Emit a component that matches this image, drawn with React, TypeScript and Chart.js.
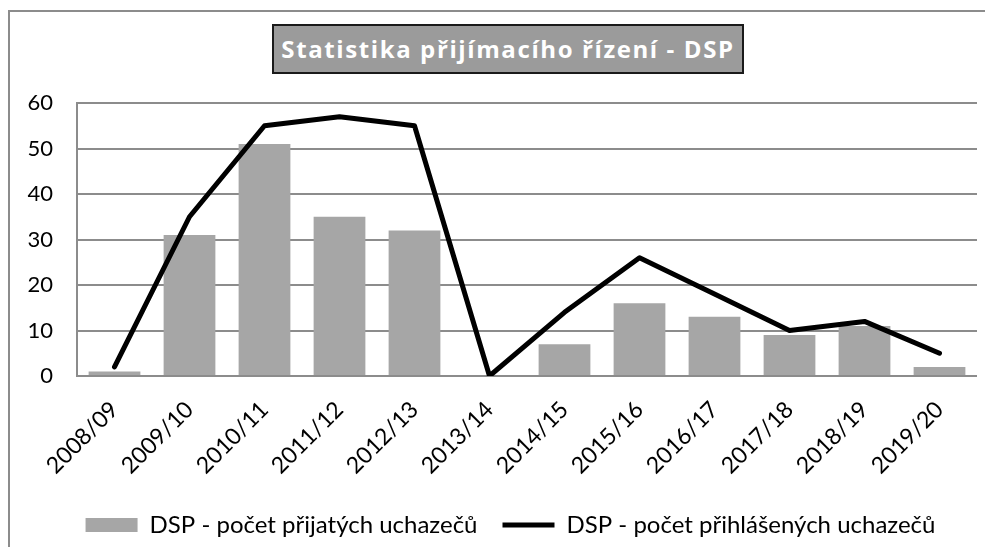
import React, { useEffect, useRef } from "react";
import { Chart, registerables } from "chart.js";

Chart.register(...registerables);

const categories = ["2008/09", "2009/10", "2010/11", "2011/12", "2012/13", "2013/14", "2014/15", "2015/16", "2016/17", "2017/18", "2018/19", "2019/20"];
const accepted = [1, 31, 51, 35, 32, 0, 7, 16, 13, 9, 11, 2];
const applied = [2, 35, 55, 57, 55, 0, 14, 26, 18, 10, 12, 5];
const acceptedLabel = "DSP - počet přijatých uchazečů";
const appliedLabel = "DSP - počet přihlášených uchazečů";
const titleText = "Statistika přijímacího řízení - DSP";

const FONT = "Lato, 'Open Sans', sans-serif";

const shiftLegend = {
  id: "shiftLegend",
  afterLayout(chart: any) {
    const lg = chart.legend;
    if (lg) {
      lg.left += 17;
      lg.right += 17;
    }
  },
};

export default function App() {
  const ref = useRef<HTMLCanvasElement>(null);
  useEffect(() => {
    const ctx = ref.current!;
    const chart = new Chart(ctx, {
      type: "bar",
      data: {
        labels: categories,
        datasets: [
          {
            type: "bar",
            label: acceptedLabel,
            data: accepted,
            backgroundColor: "#a6a6a6",
            borderWidth: 0,
            categoryPercentage: 1,
            barPercentage: 0.69,
            order: 2,
            pointStyle: "rect",
          } as any,
          {
            type: "line",
            label: appliedLabel,
            data: applied,
            borderColor: "#000000",
            backgroundColor: "#000000",
            borderWidth: 5,
            pointRadius: 0,
            tension: 0,
            borderJoinStyle: "round",
            borderCapStyle: "round",
            order: 1,
            pointStyle: "line",
          } as any,
        ],
      },
      plugins: [shiftLegend],
      options: {
        animation: false,
        responsive: false,
        maintainAspectRatio: false,
        layout: { padding: { top: 91, left: 0, right: 8, bottom: 0 } },
        plugins: {
          title: { display: false },
          tooltip: { enabled: false },
          legend: {
            position: "bottom",
            maxHeight: 64,
            labels: {
              usePointStyle: true,
              pointStyleWidth: 52,
              boxHeight: 14,
              color: "#000",
              font: { family: FONT, size: 24 },
              padding: 25,
              sort: (a: any, b: any) => a.datasetIndex - b.datasetIndex,
            },
          } as any,
        },
        scales: {
          x: {
            grid: { display: false, drawTicks: false },
            border: { display: false },
            ticks: {
              color: "#000",
              font: { family: FONT, size: 23 },
              minRotation: 45,
              maxRotation: 45,
              padding: 20,
            },
            afterFit: (s: any) => {
              s.paddingLeft = 0;
              s.paddingRight = 0;
              s.height = 112;
            },
          },
          y: {
            min: 0,
            max: 60,
            grid: { color: "#8c8c8c", lineWidth: 2, drawTicks: false },
            border: { display: true, color: "#8c8c8c", width: 2 },
            ticks: {
              stepSize: 10,
              color: "#000",
              font: { family: FONT, size: 22 },
              padding: 24,
            },
            afterFit: (s: any) => {
              s.width = 67;
            },
          },
        },
      },
    });
    return () => chart.destroy();
  }, []);
  return (
    <div
      style={{
        position: "relative",
        marginTop: 2,
        width: 977,
        height: 537,
        borderTop: "2px solid #8c8c8c",
        borderLeft: "2px solid #8c8c8c",
        boxSizing: "border-box",
        overflow: "hidden",
      }}
    >
      <canvas ref={ref} width={975} height={535} style={{ display: "block" }} />
      <div
        style={{
          position: "absolute",
          left: 262,
          top: 12,
          width: 472,
          height: 50,
          boxSizing: "border-box",
          border: "2px solid #1a1a1a",
          background: "#9b9b9b",
          color: "#fff",
          fontFamily: "'Open Sans', Roboto, sans-serif",
          fontWeight: 700,
          fontSize: 24,
          letterSpacing: 1.6,
          lineHeight: "46px",
          textAlign: "center",
          whiteSpace: "nowrap",
        }}
      >
        {titleText}
      </div>
    </div>
  );
}
